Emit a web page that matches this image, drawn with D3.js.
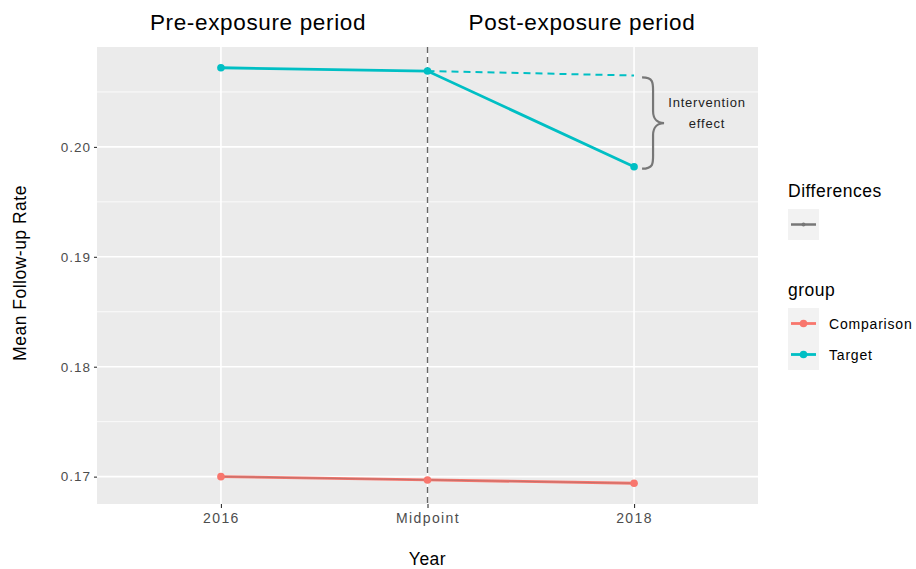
<!DOCTYPE html>
<html><head><meta charset="utf-8">
<script src="https://cdn.jsdelivr.net/npm/d3@7"></script>
<style>body{margin:0;background:#fff;} text{font-family:"Liberation Sans",Arial,sans-serif;}</style>
</head><body>
<svg id="chart" width="916" height="569"></svg>
<script>
const categories = ["2016", "Midpoint", "2018"];
const comparison = [0.1700, 0.1697, 0.1694];
const target = [0.2072, 0.2069, 0.1982];
const counterfactual = [0.2069, 0.2065]; // Midpoint -> 2018
const yTicks = [0.17, 0.18, 0.19, 0.20];
const yMinor = [0.175, 0.185, 0.195, 0.205];

const svg = d3.select("#chart");
const P = {l: 97, r: 758, t: 47, b: 504};

const x = d3.scalePoint().domain(categories).range([P.l, P.r]).padding(0.6);
const all = comparison.concat(target);
const ext = d3.extent(all);
const pad = (ext[1]-ext[0])*0.05;
const y = d3.scaleLinear().domain([ext[0]-pad, ext[1]+pad]).range([P.b, P.t]);

// panel
svg.append("rect").attr("x",P.l).attr("y",P.t).attr("width",P.r-P.l).attr("height",P.b-P.t).attr("fill","#EBEBEB");
// minor grid
svg.selectAll(".ymin").data(yMinor).enter().append("line")
  .attr("x1",P.l).attr("x2",P.r).attr("y1",d=>y(d)).attr("y2",d=>y(d))
  .attr("stroke","#fff").attr("stroke-width",0.8);
// major grid
svg.selectAll(".ymaj").data(yTicks).enter().append("line")
  .attr("x1",P.l).attr("x2",P.r).attr("y1",d=>y(d)).attr("y2",d=>y(d))
  .attr("stroke","#fff").attr("stroke-width",1.6);
svg.selectAll(".xmaj").data(categories).enter().append("line")
  .attr("x1",d=>x(d)).attr("x2",d=>x(d)).attr("y1",P.t).attr("y2",P.b)
  .attr("stroke","#fff").attr("stroke-width",1.6);

// axes
const yAxis = d3.axisLeft(y).tickValues(yTicks).tickFormat(d3.format(".2f")).tickSize(3).tickPadding(3);
const gy = svg.append("g").attr("transform",`translate(${P.l},0)`).call(yAxis);
gy.select(".domain").remove();
gy.selectAll(".tick line").attr("stroke","#333").attr("stroke-width",1.1);
gy.selectAll(".tick text").attr("fill","#4D4D4D").style("font-size","13.5px").style("letter-spacing","1px");

const xAxis = d3.axisBottom(x).tickSize(4).tickPadding(5);
const gx = svg.append("g").attr("transform",`translate(0,${P.b})`).call(xAxis);
gx.select(".domain").remove();
gx.selectAll(".tick line").attr("stroke","#333").attr("stroke-width",1.1);
gx.selectAll(".tick text").attr("fill","#4D4D4D").style("font-size","14px").style("letter-spacing","1.4px");

// vertical dashed midpoint line
svg.append("line").attr("x1",x("Midpoint")).attr("x2",x("Midpoint")).attr("y1",P.t).attr("y2",P.b)
  .attr("stroke","#666").attr("stroke-width",1.4).attr("stroke-dasharray","6,4");

const line = d3.line().x(d=>x(d.c)).y(d=>y(d.v));
const compData = categories.map((c,i)=>({c, v: comparison[i]}));
const targData = categories.map((c,i)=>({c, v: target[i]}));
const cfData = ["Midpoint","2018"].map((c,i)=>({c, v: counterfactual[i]}));

// counterfactual dashed
svg.append("path").datum(cfData).attr("d",line).attr("fill","none")
  .attr("stroke","#00BFC4").attr("stroke-width",2).attr("stroke-dasharray","7,5");

// comparison
svg.append("path").datum(compData).attr("d",line).attr("fill","none")
  .attr("stroke","#F8766D").attr("stroke-width",2.8);
svg.append("path").datum(compData).attr("d",line).attr("fill","none")
  .attr("stroke","#666").attr("stroke-width",1.2).attr("opacity",0.35);
svg.selectAll(".cp").data(compData).enter().append("circle")
  .attr("cx",d=>x(d.c)).attr("cy",d=>y(d.v)).attr("r",3.8).attr("fill","#F8766D");

// target
svg.append("path").datum(targData).attr("d",line).attr("fill","none")
  .attr("stroke","#00BFC4").attr("stroke-width",2.8);
svg.selectAll(".tp").data(targData).enter().append("circle")
  .attr("cx",d=>x(d.c)).attr("cy",d=>y(d.v)).attr("r",3.8).attr("fill","#00BFC4");

// brace
const bx = x("2018") + 8, y1 = y(counterfactual[1]) + 2, y2 = y(target[2]) + 2;
const ym = (y1+y2)/2, w = 22;
const bp = d3.path();
bp.moveTo(bx, y1);
bp.bezierCurveTo(bx+w*0.55, y1, bx+w*0.5, y1+6, bx+w*0.5, y1+16);
bp.lineTo(bx+w*0.5, ym-12);
bp.bezierCurveTo(bx+w*0.5, ym-3, bx+w*0.75, ym, bx+w, ym);
bp.bezierCurveTo(bx+w*0.75, ym, bx+w*0.5, ym+3, bx+w*0.5, ym+12);
bp.lineTo(bx+w*0.5, y2-16);
bp.bezierCurveTo(bx+w*0.5, y2-6, bx+w*0.55, y2, bx, y2);
svg.append("path").attr("d",bp.toString()).attr("fill","none").attr("stroke","#777").attr("stroke-width",2.2);

const ann = svg.append("g").style("font-size","13px").style("letter-spacing","0.8px").attr("fill","#222");
ann.append("text").attr("x",707).attr("y",107).attr("text-anchor","middle").text("Intervention");
ann.append("text").attr("x",707).attr("y",128).attr("text-anchor","middle").text("effect");

// period titles
const tt = svg.append("g").style("font-size","22.5px").style("letter-spacing","0.65px").attr("fill","#000");
tt.append("text").attr("x",258).attr("y",30).attr("text-anchor","middle").text("Pre-exposure period");
tt.append("text").attr("x",582).attr("y",30).attr("text-anchor","middle").text("Post-exposure period");

// axis titles
svg.append("text").attr("x",x("Midpoint")).attr("y",565).attr("text-anchor","middle").style("font-size","17.5px").style("letter-spacing","0.5px").attr("fill","#000").text("Year");
svg.append("text").attr("transform",`translate(26,273) rotate(-90)`).attr("text-anchor","middle").style("font-size","17.5px").style("letter-spacing","0.5px").attr("fill","#000").text("Mean Follow-up Rate");

// legends
const lx = 788;
svg.append("text").attr("x",lx).attr("y",197).style("font-size","17.5px").style("letter-spacing","0.5px").attr("fill","#000").text("Differences");
svg.append("rect").attr("x",lx).attr("y",209).attr("width",31).attr("height",31).attr("fill","#F2F2F2");
svg.append("line").attr("x1",lx+3).attr("x2",lx+28).attr("y1",224.5).attr("y2",224.5).attr("stroke","#777").attr("stroke-width",2.5);
svg.append("circle").attr("cx",lx+15.5).attr("cy",224.5).attr("r",2).attr("fill","#777");

svg.append("text").attr("x",lx).attr("y",296).style("font-size","17.5px").style("letter-spacing","0.5px").attr("fill","#000").text("group");
const groups = [{n:"Comparison", c:"#F8766D"}, {n:"Target", c:"#00BFC4"}];
groups.forEach((g,i)=>{
  const ky = 308 + i*31;
  svg.append("rect").attr("x",lx).attr("y",ky).attr("width",31).attr("height",31).attr("fill","#F2F2F2");
  svg.append("line").attr("x1",lx+3).attr("x2",lx+28).attr("y1",ky+15.5).attr("y2",ky+15.5).attr("stroke",g.c).attr("stroke-width",2.8);
  svg.append("circle").attr("cx",lx+15.5).attr("cy",ky+15.5).attr("r",3.8).attr("fill",g.c);
  svg.append("text").attr("x",lx+41).attr("y",ky+20.5).style("font-size","14px").style("letter-spacing","0.8px").attr("fill","#000").text(g.n);
});
</script>
</body></html>
